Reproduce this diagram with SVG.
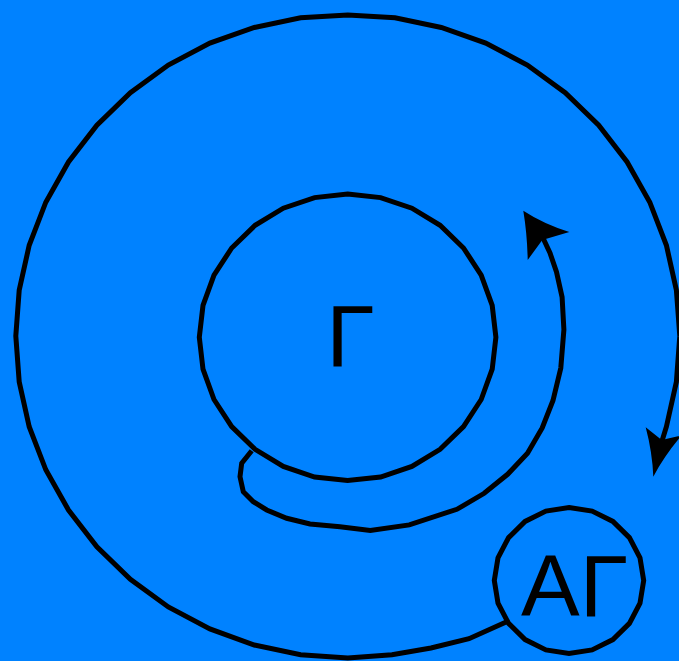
<svg xmlns="http://www.w3.org/2000/svg" width="679" height="661" viewBox="0 0 679 661">
<style>
.ln{fill:none;stroke:#000;stroke-width:5;stroke-linejoin:miter}
.nd{fill:none;stroke:#000;stroke-width:5}
.hd{fill:#000;stroke:none}
.lb{font-family:"Liberation Sans",Arial,sans-serif;font-size:88px;fill:#000;text-anchor:middle}
</style>
<rect x="0" y="0" width="679" height="661" fill="#0082ff"/>
<g id="connectors">
<polyline class="ln" points="506.7,621.7 469,638.7 431,648 392,654.7 347.8,658 300.6,654.7 254.3,645 209.9,628.9 168.3,606.9 130.4,579.3 96.9,546.9 68.5,510.1 45.8,469.8 29.2,426.7 19.2,381.8 15.8,336 19.2,290.2 29.2,245.3 45.8,202.2 68.5,161.9 96.9,125.1 130.4,92.7 168.3,65.1 209.9,43.1 254.3,27.5 300.6,17.8 347.8,15 395,17.8 441.3,27.5 485.7,43.1 527.3,65.1 565.2,92.7 598.7,125.1 627.1,161.9 649.8,202.2 666.4,245.3 676.4,290.2 679.8,336 676.4,381.8 666.4,426.7 661.7,442"/>
<path class="hd" d="M653.3,476.7 Q652.4,452.7 645.7,427.3 L661.7,440 L681.6,435.5 Q664.6,455.4 653.3,476.7 Z"/>
<polyline class="ln" points="251.7,450.7 241.7,463.3 240,476.7 243.3,491.7 253.3,501.7 266.7,510 286.7,518.3 310,524 340,526.7 370.3,530.4 409.3,524.9 456.9,509.3 484.2,493.3 507.6,474.3 527.5,453.2 542.2,427.9 553,400.5 560.8,368 563.9,329.7 562.1,297.2 556.5,271.9 550,253 543,238"/>
<path class="hd" d="M523.3,210.7 Q543,223.6 569.3,232 L542.3,240 L527.7,260 Q527.2,234.3 523.3,210.7 Z"/>
</g>
<g id="node-G">
<polygon class="nd" points="347.6,194 380.6,197.6 411.9,208.2 440.1,225.3 463.5,248 481.2,275.1 492.2,305.4 495.9,337.3 492.2,369.2 481.2,399.5 463.5,426.6 440.1,449.3 411.9,466.4 380.6,477 347.6,480.6 314.6,477 283.3,466.4 255.1,449.3 231.7,426.6 214,399.5 203,369.2 199.3,337.3 203,305.4 214,275.1 231.7,248 255.1,225.3 283.3,208.2 314.6,197.6"/>
<text class="lb" x="350.2" y="366">Г</text>
</g>
<g id="node-AG">
<polygon class="nd" points="569,507.5 592.1,511.1 612.9,521.4 629.4,537.6 640,557.9 643.7,580.5 640,603.1 629.4,623.4 612.9,639.6 592.1,649.9 569,653.5 545.9,649.9 525.1,639.6 508.6,623.4 498,603.1 494.3,580.5 498,557.9 508.6,537.6 525.1,521.4 545.9,511.1"/>
<text class="lb" x="574.3" y="615.7">АГ</text>
</g>
</svg>
